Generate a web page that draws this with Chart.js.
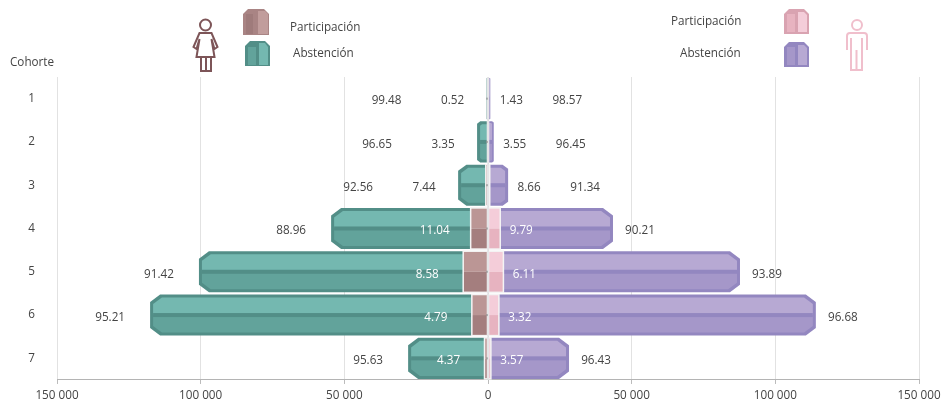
<!DOCTYPE html>
<html>
<head>
<meta charset="utf-8">
<style>
  html, body { margin: 0; background: #fff; }
  #wrap { position: relative; width: 944px; height: 401px; overflow: hidden; font-family: "Open Sans", sans-serif; font-size: 11.7px; color: #444; }
  canvas { position: absolute; left: 0; top: 0; }
  svg { position: absolute; left: 0; top: 0; }
  .lbl { position: absolute; line-height: 16px; white-space: nowrap; }
</style>
</head>
<body>
<div id="wrap">
  <canvas id="chart" width="944" height="401"></canvas>
  <svg width="944" height="80" viewBox="0 0 944 80">
    <!-- woman -->
    <g fill="none" stroke="#7d5558" stroke-width="2">
      <circle cx="205.5" cy="25" r="5.5"/>
      <path d="M199.5 33h12l6 14-3 2-3-10 3 18h-18l3-18-3 10-3-2z"/>
      <path d="M201 57v14h10v-14M206 57v14"/>
    </g>
    <!-- man -->
    <g fill="none" stroke="#f0bfcc" stroke-width="2">
      <circle cx="857" cy="25" r="5"/>
      <path d="M847 50v-14q0-3 3-3h14q3 0 3 3v14M851 38v32h11v-32M856.5 50v20"/>
    </g>
    <!-- legend swatches -->
    <g>
      <path d="M243 35v-21l5-5h16l5 5v21z" fill="#a98484"/>
      <path d="M246 14h7v20h-7z" fill="#9f7b7b"/><path d="M258 11h7l3 3v20h-10z" fill="#c19d9c"/>
      <path d="M245 66v-20l5-5h15l5 5v20z" fill="#528e87"/>
      <path d="M248 47h8v18h-8z" fill="#62a39b"/><path d="M259 43h6l3 4v18h-9z" fill="#74b8b0"/>
      <path d="M784 34v-20l5-5h15l5 5v20z" fill="#d9a3b1"/>
      <path d="M787 14h8v18h-8z" fill="#e7b3c0"/><path d="M798 12h6l3 3v17h-9z" fill="#f4cdd9"/>
      <path d="M784 67v-20l5-5h15l5 5v20z" fill="#9387c0"/>
      <path d="M787 47h8v18h-8z" fill="#a597c9"/><path d="M798 45h6l3 3v17h-9z" fill="#b7a9d3"/>
    </g>
  </svg>
  <div class="lbl" style="left:290px;top:18px">Participación</div>
  <div class="lbl" style="left:293px;top:44px">Abstención</div>
  <div class="lbl" style="left:671px;top:12px">Participación</div>
  <div class="lbl" style="left:680px;top:44px">Abstención</div>
  <div class="lbl" style="left:10px;top:53px">Cohorte</div>
</div>
<script src="https://cdn.jsdelivr.net/npm/chart.js@4"></script>
<script>
const cohorts = ['1', '2', '3', '4', '5', '6', '7'];

// head counts
const womenParticipation = [3, 130, 770, 6030, 8630, 5630, 1216];
const womenAbstention = [500, 3670, 9630, 48570, 91970, 111970, 26584];
const menParticipation = [11, 71, 606, 4260, 5360, 3790, 1006];
const menAbstention = [789, 1929, 6394, 39240, 82340, 110310, 27194];

// printed percentages
const womenPartPct = ['0.52', '3.35', '7.44', '11.04', '8.58', '4.79', '4.37'];
const womenAbstPct = ['99.48', '96.65', '92.56', '88.96', '91.42', '95.21', '95.63'];
const menPartPct = ['1.43', '3.55', '8.66', '9.79', '6.11', '3.32', '3.57'];
const menAbstPct = ['98.57', '96.45', '91.34', '90.21', '93.89', '96.68', '96.43'];

const looks = {
  teal: { top: '#74b8b0', bottom: '#62a39b', line: '#528e87' },
  purple: { top: '#b7a9d3', bottom: '#a597c9', line: '#9387c0' },
  brown: { top: '#bb9695', bottom: '#a47e7e', line: '#967272' },
  pink: { top: '#f4cdd9', bottom: '#e7b3c0', line: '#dba6b4' }
};

function drawAbstention(ctx, el, look, dir) {
  // dir -1 grows left, 1 grows right; outer end gets the chamfer and border
  const inner = el.base, outer = el.x;
  const top = el.y - el.height / 2, bottom = el.y + el.height / 2;
  const w = Math.abs(outer - inner);
  const cut = Math.min(10, w * 0.3);
  const shape = (ins) => {
    const ox = outer - dir * ins;
    const c = Math.max(cut - ins * 0.4, 0);
    ctx.beginPath();
    ctx.moveTo(inner, top + ins);
    ctx.lineTo(ox - dir * c, top + ins);
    ctx.lineTo(ox, top + ins + c * 0.75);
    ctx.lineTo(ox, bottom - ins - c * 0.75);
    ctx.lineTo(ox - dir * c, bottom - ins);
    ctx.lineTo(inner, bottom - ins);
    ctx.closePath();
  };
  ctx.save();
  shape(0);
  ctx.fillStyle = look.line;
  ctx.fill();
  shape(Math.min(3, w * 0.3));
  ctx.clip();
  ctx.fillStyle = look.top;
  ctx.fillRect(Math.min(inner, outer), top, w, el.height / 2);
  ctx.fillStyle = look.bottom;
  ctx.fillRect(Math.min(inner, outer), el.y, w, el.height / 2);
  ctx.fillStyle = look.line;
  ctx.fillRect(Math.min(inner, outer), el.y - 2, w, 4);
  ctx.restore();
}

function drawParticipation(ctx, el, look) {
  const left = Math.min(el.x, el.base), w = Math.abs(el.x - el.base);
  const top = el.y - el.height / 2;
  ctx.fillStyle = look.top;
  ctx.fillRect(left, top, w, el.height / 2);
  ctx.fillStyle = look.bottom;
  ctx.fillRect(left, el.y, w, el.height / 2);
  ctx.strokeStyle = '#f4f4f4';
  ctx.lineWidth = 1.5;
  ctx.strokeRect(left, top, w, el.height);
}

const barSkin = {
  id: 'barSkin',
  beforeDatasetDraw(chart, args) {
    const ds = chart.data.datasets[args.index];
    const ctx = chart.ctx;
    args.meta.data.forEach(el => {
      if (ds.part === 'abst') drawAbstention(ctx, el, looks[ds.look], ds.side);
      else drawParticipation(ctx, el, looks[ds.look]);
    });
    return false;
  },
  afterDatasetsDraw(chart) {
    const ctx = chart.ctx, area = chart.chartArea;
    const x0 = chart.scales.x.getPixelForValue(0);
    ctx.save();
    ctx.fillStyle = 'rgba(205,205,212,0.5)';
    ctx.fillRect(x0 - 0.75, area.top, 1.5, area.bottom - area.top);
    ctx.fillStyle = 'rgba(140,140,140,0.6)';
    chart.getDatasetMeta(0).data.forEach(el => ctx.fillRect(x0 - 2, el.y - 1, 2, 2));
    ctx.restore();
    drawPercents(chart);
  }
};

function drawPercents(chart) {
  const ctx = chart.ctx;
  ctx.save();
  ctx.font = '11.7px "Open Sans", sans-serif';
  ctx.textAlign = 'center';
  ctx.textBaseline = 'middle';
  const put = (txt, x, y, color) => {
    ctx.fillStyle = color;
    ctx.fillText(txt, x, y + 2.5);
  };
  const wp = chart.getDatasetMeta(0).data, wa = chart.getDatasetMeta(1).data;
  const mp = chart.getDatasetMeta(2).data, ma = chart.getDatasetMeta(3).data;
  cohorts.forEach((c, i) => {
    // the participation label sits inside the abstention bar when the bar is wide enough
    const wInside = wp[i].x - wa[i].x > 55;
    const wpx = wInside ? wp[i].x - 36 : wa[i].x - 34;
    put(womenPartPct[i], wpx, wp[i].y, wInside ? '#fff' : '#444');
    put(womenAbstPct[i], wInside ? wa[i].x - 40 : wpx - 66, wp[i].y, '#444');
    const mInside = ma[i].x - mp[i].x > 35;
    const mpx = mInside ? mp[i].x + 21 : ma[i].x + 21;
    put(menPartPct[i], mpx, mp[i].y, mInside ? '#fff' : '#444');
    put(menAbstPct[i], mInside ? ma[i].x + 27 : mpx + 56, mp[i].y, '#444');
  });
  ctx.restore();
}

new Chart(document.getElementById('chart'), {
  type: 'bar',
  data: {
    labels: cohorts,
    datasets: [
      { label: 'Participación (mujeres)', data: womenParticipation.map(v => -v), part: 'part', look: 'brown', side: -1, order: 0 },
      { label: 'Abstención (mujeres)', data: womenAbstention.map(v => -v), part: 'abst', look: 'teal', side: -1, order: 1 },
      { label: 'Participación (hombres)', data: menParticipation, part: 'part', look: 'pink', side: 1, order: 0 },
      { label: 'Abstención (hombres)', data: menAbstention, part: 'abst', look: 'purple', side: 1, order: 1 }
    ]
  },
  options: {
    indexAxis: 'y',
    responsive: false,
    animation: false,
    barPercentage: 0.95,
    categoryPercentage: 1,
    layout: { padding: { top: 77, right: 0, left: 0, bottom: -6 } },
    plugins: { legend: { display: false }, tooltip: { enabled: false } },
    scales: {
      x: {
        stacked: true,
        min: -150000,
        max: 150000,
        ticks: {
          stepSize: 50000,
          maxRotation: 0,
          padding: 5,
          color: '#444',
          font: { family: '"Open Sans", sans-serif', size: 11.7 },
          callback: v => Math.abs(v).toString().replace(/\B(?=(\d{3})+$)/g, ' ')
        },
        grid: { color: '#e2e2e2', tickLength: 4, tickColor: '#bbb' },
        border: { color: '#b4b4b4' },
        afterFit: s => { s.height = 23; s.paddingRight = 25; }
      },
      y: {
        stacked: true,
        ticks: {
          color: '#444',
          padding: 14,
          font: { family: '"Open Sans", sans-serif', size: 11.7 }
        },
        grid: { display: false },
        border: { display: false },
        afterFit: s => { s.width = 57; }
      }
    }
  },
  plugins: [barSkin]
});
</script>
</body>
</html>
